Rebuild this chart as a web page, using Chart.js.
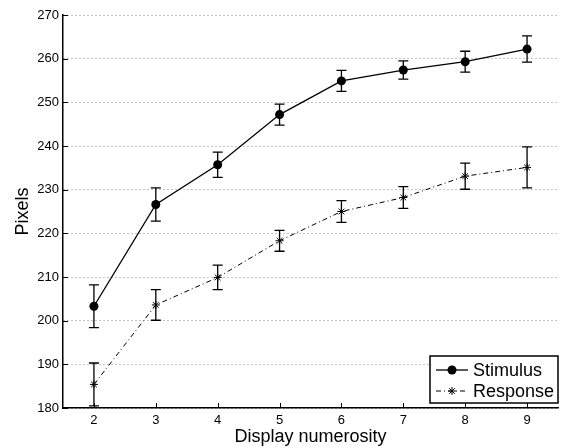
<!DOCTYPE html>
<html lang="en">
<head>
    <meta charset="UTF-8">
    <title>Display numerosity vs Pixels</title>
    <script src="https://cdn.jsdelivr.net/npm/chart.js"></script>
    <style>
        html, body { margin: 0; padding: 0; background: #fff; }
        #wrap { width: 563px; height: 448px; }
    </style>
</head>
<body>
    <div id="wrap"><canvas id="chart" width="563" height="448"></canvas></div>
    <script>
        const numerosity = [2, 3, 4, 5, 6, 7, 8, 9];
        const stimulus = [203.3, 226.6, 235.7, 247.2, 254.9, 257.4, 259.3, 262.2];
        const stimulusErr = [4.9, 3.8, 2.9, 2.4, 2.4, 2.1, 2.4, 3.0];
        const response = [185.4, 203.6, 209.9, 218.3, 225.0, 228.2, 233.1, 235.1];
        const responseErr = [4.9, 3.5, 2.8, 2.4, 2.5, 2.5, 3.0, 4.7];
        const yTicks = [180, 190, 200, 210, 220, 230, 240, 250, 260, 270];

        const FONT = '"Liberation Sans", Arial, Helvetica, sans-serif';

        // error bars + inward tick marks + boxed legend (MATLAB look)
        const extras = {
            id: 'extras',
            beforeDatasetsDraw(chart) {
                const ctx = chart.ctx;
                const xs = chart.scales.x, ys = chart.scales.y;
                chart.data.datasets.forEach(ds => {
                    ctx.save();
                    ctx.strokeStyle = '#000';
                    ctx.lineWidth = 1.3;
                    ds.data.forEach((p, i) => {
                        const e = ds.errors[i];
                        const x = xs.getPixelForValue(p.x);
                        const y1 = ys.getPixelForValue(p.y - e);
                        const y2 = ys.getPixelForValue(p.y + e);
                        ctx.beginPath();
                        ctx.moveTo(x, y1); ctx.lineTo(x, y2);
                        ctx.moveTo(x - 5, y1); ctx.lineTo(x + 5, y1);
                        ctx.moveTo(x - 5, y2); ctx.lineTo(x + 5, y2);
                        ctx.stroke();
                    });
                    ctx.restore();
                });
            },
            afterDraw(chart) {
                const ctx = chart.ctx;
                const xs = chart.scales.x, ys = chart.scales.y;
                const a = chart.chartArea;
                ctx.save();
                ctx.strokeStyle = '#000';
                ctx.lineWidth = 1;
                ctx.beginPath();
                numerosity.forEach(v => {
                    const x = Math.round(xs.getPixelForValue(v)) + 0.5;
                    ctx.moveTo(x, a.bottom); ctx.lineTo(x, a.bottom - 5);
                });
                yTicks.forEach(v => {
                    const y = Math.round(ys.getPixelForValue(v)) + 0.5;
                    ctx.moveTo(a.left, y); ctx.lineTo(a.left + 5, y);
                });
                ctx.stroke();

                // legend box
                const bx = 430, by = 356, bw = 128, bh = 47;
                ctx.fillStyle = '#fff';
                ctx.fillRect(bx, by, bw, bh);
                ctx.lineWidth = 1.5;
                ctx.strokeRect(bx, by, bw, bh);
                ctx.font = '18px ' + FONT;
                ctx.fillStyle = '#000';
                ctx.textBaseline = 'middle';
                const rows = [
                    { label: 'Stimulus', y: by + 14, dash: [], marker: 'circle' },
                    { label: 'Response', y: by + 35, dash: [5, 3, 1, 3], marker: 'star' }
                ];
                rows.forEach(r => {
                    ctx.lineWidth = r.marker === 'circle' ? 1.3 : 1;
                    ctx.setLineDash(r.dash);
                    ctx.beginPath();
                    ctx.moveTo(bx + 6, r.y); ctx.lineTo(bx + 38, r.y);
                    ctx.stroke();
                    ctx.setLineDash([]);
                    const mx = bx + 22;
                    if (r.marker === 'circle') {
                        ctx.beginPath();
                        ctx.arc(mx, r.y, 4.5, 0, Math.PI * 2);
                        ctx.fill();
                    } else {
                        ctx.beginPath();
                        for (let k = 0; k < 4; k++) {
                            const ang = k * Math.PI / 4;
                            ctx.moveTo(mx - 4 * Math.cos(ang), r.y - 4 * Math.sin(ang));
                            ctx.lineTo(mx + 4 * Math.cos(ang), r.y + 4 * Math.sin(ang));
                        }
                        ctx.stroke();
                    }
                    ctx.fillText(r.label, bx + 43, r.y + 1);
                });
                ctx.restore();
            }
        };

        new Chart(document.getElementById('chart'), {
            type: 'line',
            data: {
                datasets: [
                    {
                        label: 'Stimulus',
                        data: numerosity.map((x, i) => ({ x, y: stimulus[i] })),
                        errors: stimulusErr,
                        borderColor: '#000',
                        backgroundColor: '#000',
                        borderWidth: 1.3,
                        pointStyle: 'circle',
                        pointRadius: 4.5,
                        pointBorderWidth: 0,
                        tension: 0
                    },
                    {
                        label: 'Response',
                        data: numerosity.map((x, i) => ({ x, y: response[i] })),
                        errors: responseErr,
                        borderColor: '#000',
                        backgroundColor: '#000',
                        borderWidth: 1,
                        borderDash: [5, 3, 1, 3],
                        pointStyle: 'star',
                        pointRadius: 4,
                        pointBorderWidth: 1,
                        tension: 0
                    }
                ]
            },
            options: {
                responsive: false,
                animation: false,
                layout: { padding: { top: 15, right: 0, left: 0, bottom: 0 } },
                plugins: { legend: { display: false }, tooltip: { enabled: false } },
                scales: {
                    x: {
                        type: 'linear',
                        min: 1.5,
                        max: 9.5,
                        afterBuildTicks: s => { s.ticks = numerosity.map(v => ({ value: v })); },
                        afterFit: s => { s.height = 40; },
                        grid: { display: false, drawTicks: false },
                        border: { display: true, color: '#000', width: 1.5 },
                        ticks: { color: '#000', font: { family: FONT, size: 13 }, padding: 5, maxRotation: 0 },
                        title: { display: true, text: 'Display numerosity', color: '#000',
                                 font: { family: FONT, size: 18 }, padding: { top: 0, bottom: 0 } }
                    },
                    y: {
                        min: 180,
                        max: 270,
                        afterBuildTicks: s => { s.ticks = yTicks.map(v => ({ value: v })); },
                        afterFit: s => { s.width = 63; },
                        grid: { color: '#888', lineWidth: 1, drawTicks: false },
                        border: { display: true, color: '#000', width: 1.5, dash: [1, 3] },
                        ticks: { color: '#000', font: { family: FONT, size: 13 }, padding: 4 },
                        title: { display: true, text: 'Pixels', color: '#000',
                                 font: { family: FONT, size: 18 }, padding: { top: 12, bottom: 0 } }
                    }
                }
            },
            plugins: [extras]
        });
    </script>
</body>
</html>
